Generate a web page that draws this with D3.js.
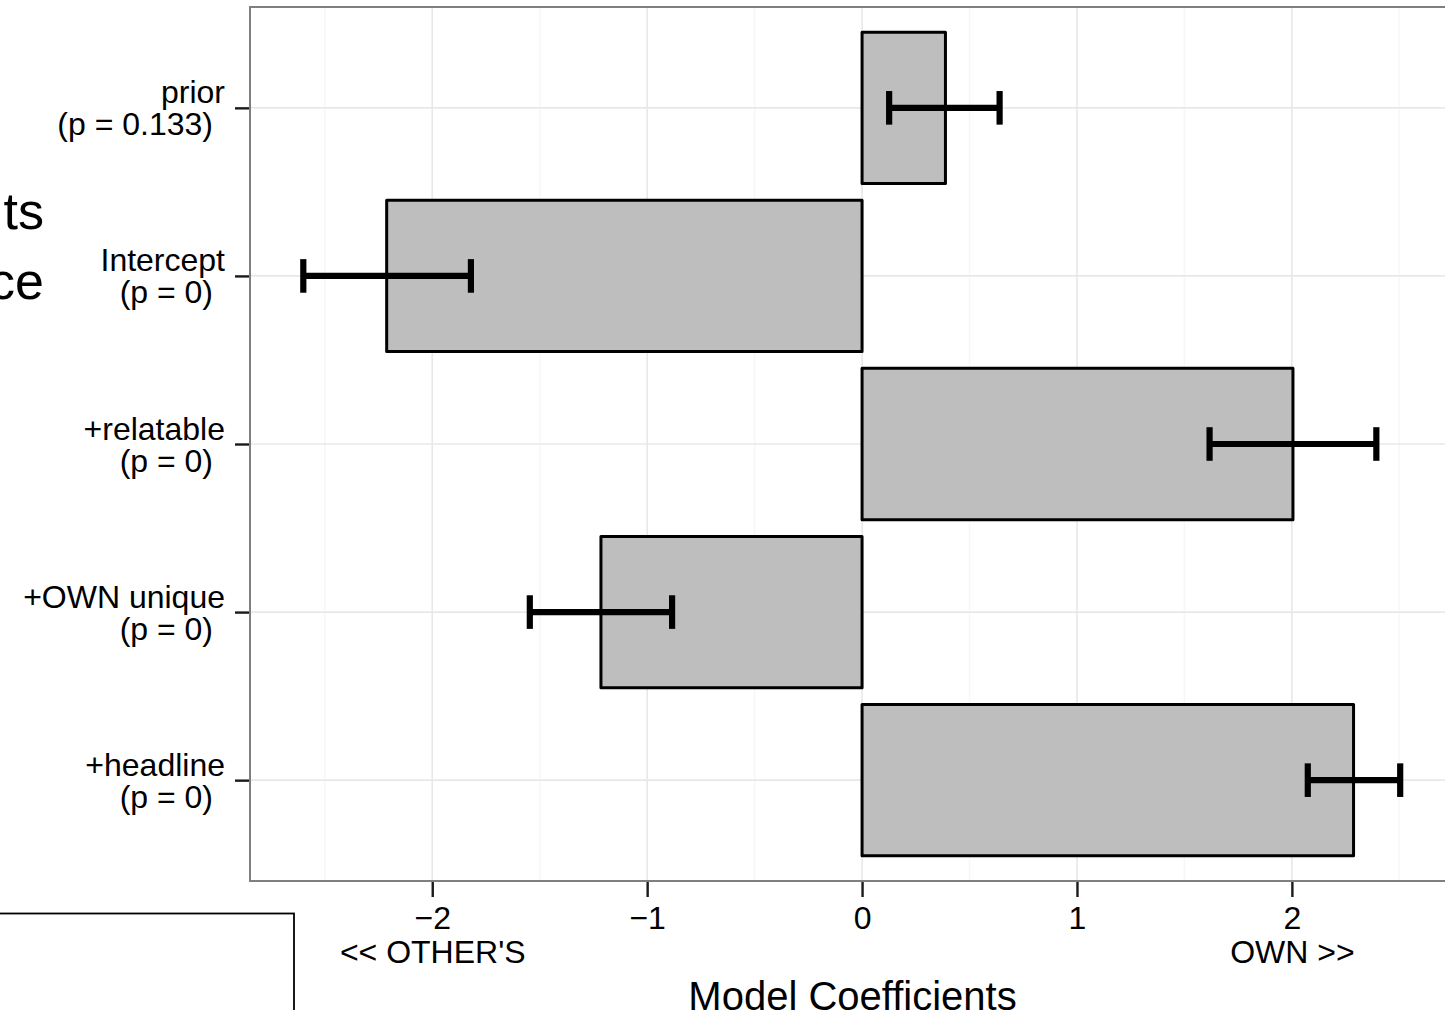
<!DOCTYPE html>
<html>
<head>
<meta charset="utf-8">
<script src="https://cdn.jsdelivr.net/npm/d3@7"></script>
<style>
  html, body { margin: 0; padding: 0; background: #fff; overflow: hidden; }
  svg { display: block; }
  text { font-family: "Liberation Sans", Arial, Helvetica, sans-serif; fill: #000; }
</style>
</head>
<body>
<svg id="chart" width="1445" height="1010"></svg>
<script>
// ---- data ----
const categories = ["prior", "Intercept", "+relatable", "+OWN unique", "+headline"];
const pLabels = ["(p = 0.133)", "(p = 0)", "(p = 0)", "(p = 0)", "(p = 0)"];
const estimates = [0.388, -2.212, 2.005, -1.215, 2.287];
const ciLow = [0.126, -2.600, 1.617, -1.546, 2.074];
const ciHigh = [0.640, -1.820, 2.393, -0.884, 2.504];
const xTicks = [-2, -1, 0, 1, 2];
const xTickLabels = ["\u22122\n<< OTHER'S", "\u22121", "0", "1", "2\nOWN >>"];
const xMinorTicks = [-2.5, -1.5, -0.5, 0.5, 1.5, 2.5];
const xTitle = "Model Coefficients";
const leftFragments = ["ts", "ce"];

const svg = d3.select("#chart");

const panel = { left: 250, top: 7, right: 1455, bottom: 881 };

const x = d3.scaleLinear().domain([-2.848, 2.759]).range([panel.left, panel.right]);
const y = d3.scalePoint().domain(categories).range([panel.top, panel.bottom]).padding(0.6);
const step = y.step();

// left fragments of another element (clipped text)
svg.append("g").selectAll("text").data(leftFragments).join("text")
  .attr("x", 44).attr("y", (d, i) => 229 + i * 70)
  .attr("text-anchor", "end")
  .style("font-size", "52px")
  .text(d => d);

// bottom-left box
svg.append("rect")
  .attr("x", -10).attr("y", 913.5).attr("width", 304).attr("height", 120)
  .attr("fill", "none").attr("stroke", "#000").attr("stroke-width", 1.8);

// panel background
const g = svg.append("g");
g.append("rect")
  .attr("x", panel.left).attr("y", panel.top)
  .attr("width", panel.right - panel.left).attr("height", panel.bottom - panel.top)
  .attr("fill", "#fff");

// minor grid
g.append("g").selectAll("line").data(xMinorTicks).join("line")
  .attr("x1", d => x(d)).attr("x2", d => x(d))
  .attr("y1", panel.top).attr("y2", panel.bottom)
  .attr("stroke", "#f7f7f7").attr("stroke-width", 1.6);

// major grid
g.append("g").selectAll("line").data(xTicks).join("line")
  .attr("x1", d => x(d)).attr("x2", d => x(d))
  .attr("y1", panel.top).attr("y2", panel.bottom)
  .attr("stroke", "#e8e8e8").attr("stroke-width", 1.6);
g.append("g").selectAll("line").data(categories).join("line")
  .attr("x1", panel.left).attr("x2", panel.right)
  .attr("y1", d => y(d)).attr("y2", d => y(d))
  .attr("stroke", "#e8e8e8").attr("stroke-width", 1.6);

// bars
const barH = step * 0.9;
g.append("g").selectAll("rect").data(categories).join("rect")
  .attr("x", (d, i) => Math.min(x(0), x(estimates[i])))
  .attr("width", (d, i) => Math.abs(x(estimates[i]) - x(0)))
  .attr("y", d => y(d) - barH / 2)
  .attr("height", barH)
  .attr("fill", "#bebebe")
  .attr("stroke", "#000").attr("stroke-width", 3)
  .attr("stroke-linejoin", "round");

// error bars
const capH = step * 0.2;
const eb = g.append("g").attr("stroke", "#000").attr("stroke-width", 6.2);
eb.selectAll("line.h").data(categories).join("line").attr("class", "h")
  .attr("x1", (d, i) => x(ciLow[i])).attr("x2", (d, i) => x(ciHigh[i]))
  .attr("y1", d => y(d)).attr("y2", d => y(d));
eb.selectAll("line.l").data(categories).join("line").attr("class", "l")
  .attr("x1", (d, i) => x(ciLow[i])).attr("x2", (d, i) => x(ciLow[i]))
  .attr("y1", d => y(d) - capH / 2).attr("y2", d => y(d) + capH / 2);
eb.selectAll("line.r").data(categories).join("line").attr("class", "r")
  .attr("x1", (d, i) => x(ciHigh[i])).attr("x2", (d, i) => x(ciHigh[i]))
  .attr("y1", d => y(d) - capH / 2).attr("y2", d => y(d) + capH / 2);

// panel border
g.append("rect")
  .attr("x", panel.left).attr("y", panel.top)
  .attr("width", panel.right - panel.left).attr("height", panel.bottom - panel.top)
  .attr("fill", "none").attr("stroke", "#7f7f7f").attr("stroke-width", 2);

// y axis
const yAxis = svg.append("g")
  .attr("transform", `translate(${panel.left - 1},0)`)
  .call(d3.axisLeft(y).tickSize(14).tickFormat(""));
yAxis.select(".domain").remove();
yAxis.selectAll(".tick line").attr("stroke", "#1a1a1a").attr("stroke-width", 2.4);
yAxis.selectAll(".tick").each(function(d, i) {
  const t = d3.select(this).append("text")
    .attr("text-anchor", "end")
    .style("font-size", "32px");
  t.append("tspan").attr("x", -24).attr("y", -5).text(d);
  t.append("tspan").attr("x", -36).attr("y", 27).text(pLabels[i]);
});

// x axis
const xAxis = svg.append("g")
  .attr("transform", `translate(0,${panel.bottom + 1})`)
  .call(d3.axisBottom(x).tickValues(xTicks).tickSize(15).tickFormat(""));
xAxis.select(".domain").remove();
xAxis.selectAll(".tick line").attr("stroke", "#1a1a1a").attr("stroke-width", 2.4);
xAxis.selectAll(".tick").each(function(d, i) {
  const lines = xTickLabels[i].split("\n");
  const t = d3.select(this).append("text")
    .attr("text-anchor", "middle")
    .style("font-size", "32px");
  lines.forEach((ln, k) => {
    t.append("tspan").attr("x", 0).attr("y", 47 + k * 33.5).text(ln);
  });
});

// x title
svg.append("text")
  .attr("x", (panel.left + panel.right) / 2)
  .attr("y", 1010)
  .attr("text-anchor", "middle")
  .style("font-size", "40px")
  .text(xTitle);
</script>
</body>
</html>
